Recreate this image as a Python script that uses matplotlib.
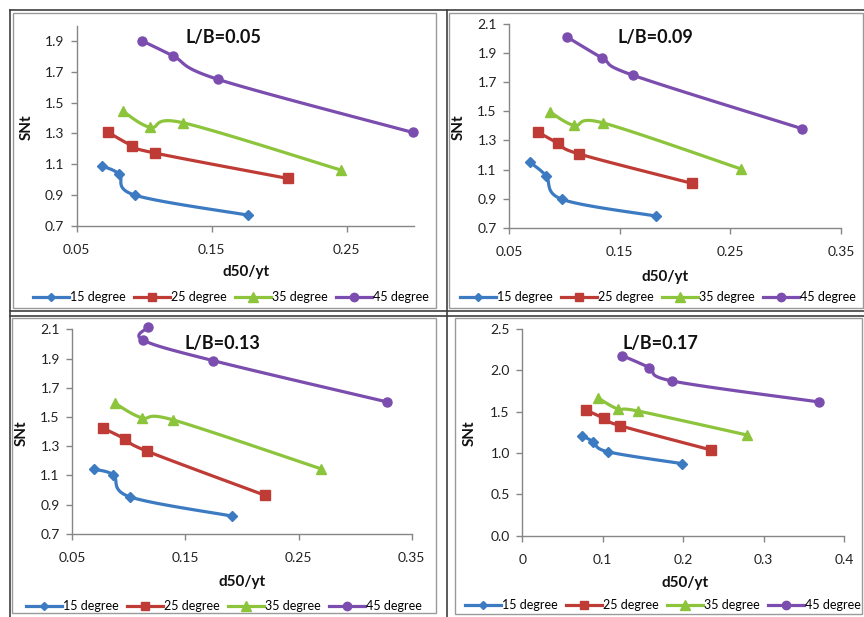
import numpy as np
import matplotlib
matplotlib.use("Agg")
import matplotlib.pyplot as plt
from matplotlib.lines import Line2D
from matplotlib.patches import Rectangle

plt.rcParams['font.family'] = ['Lato', 'DejaVu Sans']

# ---------------- data ----------------
series_labels = ["15 degree", "25 degree", "35 degree", "45 degree"]
titles = ["L/B=0.05", "L/B=0.09", "L/B=0.13", "L/B=0.17"]

# Panel 1 (L/B=0.05)
p1_x15 = [0.069, 0.0815, 0.093, 0.1767]
p1_y15 = [1.087, 1.035, 0.899, 0.769]
p1_x25 = [0.0734, 0.0913, 0.108, 0.2065]
p1_y25 = [1.306, 1.219, 1.172, 1.007]
p1_x35 = [0.084, 0.1046, 0.1287, 0.246]
p1_y35 = [1.445, 1.339, 1.369, 1.061]
p1_x45 = [0.0987, 0.1216, 0.155, 0.299]
p1_y45 = [1.900, 1.802, 1.650, 1.306]

# Panel 2 (L/B=0.09)
p2_x15 = [0.0687, 0.0832, 0.0979, 0.1824]
p2_y15 = [1.150, 1.058, 0.896, 0.782]
p2_x25 = [0.0756, 0.0943, 0.1133, 0.2152]
p2_y25 = [1.358, 1.280, 1.207, 1.006]
p2_x35 = [0.0868, 0.1088, 0.1344, 0.2598]
p2_y35 = [1.495, 1.403, 1.421, 1.104]
p2_x45 = [0.1019, 0.1341, 0.1622, 0.315]
p2_y45 = [2.010, 1.864, 1.746, 1.380]

# Panel 3 (L/B=0.13)
p3_x15 = [0.0692, 0.0863, 0.1007, 0.1909]
p3_y15 = [1.141, 1.102, 0.953, 0.821]
p3_x25 = [0.0774, 0.0966, 0.1158, 0.2203]
p3_y25 = [1.422, 1.349, 1.266, 0.963]
p3_x35 = [0.0878, 0.1114, 0.1393, 0.2696]
p3_y35 = [1.593, 1.494, 1.479, 1.145]
p3_x45 = [0.1172, 0.1122, 0.1747, 0.3285]
p3_y45 = [2.114, 2.027, 1.885, 1.602]

# Panel 4 (L/B=0.17)
p4_x15 = [0.0738, 0.0883, 0.1061, 0.199]
p4_y15 = [1.210, 1.137, 1.016, 0.871]
p4_x25 = [0.0788, 0.102, 0.1215, 0.2351]
p4_y25 = [1.520, 1.419, 1.331, 1.036]
p4_x35 = [0.0937, 0.119, 0.1439, 0.2794]
p4_y35 = [1.669, 1.532, 1.508, 1.218]
p4_x45 = [0.1244, 0.158, 0.1866, 0.3694]
p4_y45 = [2.177, 2.032, 1.871, 1.617]

# axis settings
p1_xticks = [0.05, 0.15, 0.25]
p1_yticks = [0.7, 0.9, 1.1, 1.3, 1.5, 1.7, 1.9]
p2_xticks = [0.05, 0.15, 0.25, 0.35]
p2_yticks = [0.7, 0.9, 1.1, 1.3, 1.5, 1.7, 1.9, 2.1]
p3_xticks = [0.05, 0.15, 0.25, 0.35]
p3_yticks = [0.7, 0.9, 1.1, 1.3, 1.5, 1.7, 1.9, 2.1]
p4_xticks = [0, 0.1, 0.2, 0.3, 0.4]
p4_yticks = [0.0, 0.5, 1.0, 1.5, 2.0, 2.5]
p4_xticklabels = ["0", "0.1", "0.2", "0.3", "0.4"]

colors = ["#3C7AC2", "#BF3B36", "#8CC43C", "#7B4DAE"]
markers = ["D", "s", "^", "o"]
msizes = [5.0, 6.5, 7.0, 6.5]

W, H = 864, 617
fig = plt.figure(figsize=(W / 100, H / 100), dpi=100)


def fx(x):
    return x / W


def fy(y):
    return 1 - y / H


def smooth(xs, ys, n=40):
    P = np.column_stack([xs, ys]).astype(float)
    m = len(P)
    out = [P[0:1]]
    t = np.linspace(0, 1, n)[1:, None]
    for i in range(m - 1):
        p0 = P[max(i - 1, 0)]
        p1 = P[i]
        p2 = P[i + 1]
        p3 = P[min(i + 2, m - 1)]
        c1 = p1 + (p2 - p0) / 6.0
        c2 = p2 - (p3 - p1) / 6.0
        seg = ((1 - t) ** 3) * p1 + 3 * ((1 - t) ** 2) * t * c1 + 3 * (1 - t) * (t ** 2) * c2 + (t ** 3) * p2
        out.append(seg)
    Q = np.vstack(out)
    return Q[:, 0], Q[:, 1]


# frames (chart areas and table lines)
frame_gray = "#9a9a9a"
dark = "#3f3f3f"
for (x0, y0, x1, y1) in [(13, 13, 436, 308), (449, 13, 863, 308),
                         (12, 318, 436, 613), (455, 318, 862, 614)]:
    fig.add_artist(Rectangle((fx(x0), fy(y1)), fx(x1 - x0), (y1 - y0) / H,
                             transform=fig.transFigure, fill=False,
                             edgecolor=frame_gray, lw=1.0))
for (xa, ya, xb, yb) in [(10, 10, 864, 10), (10, 10, 10, 617), (447.5, 10, 447.5, 617),
                         (10, 311, 864, 311), (10, 316, 864, 316)]:
    fig.add_artist(Line2D([fx(xa), fx(xb)], [fy(ya), fy(yb)], transform=fig.transFigure,
                          color=dark, lw=1.2))

panels = [
    dict(box=(76.7, 414.0, 25.6, 225.7), xlim=(0.05, 0.30), ylim=(0.7, 2.0),
         xt=p1_xticks, yt=p1_yticks, xtl=None, yfmt="{:.1f}",
         data=[(p1_x15, p1_y15), (p1_x25, p1_y25), (p1_x35, p1_y35), (p1_x45, p1_y45)],
         title=(223, 38), xlab=(246, 272), ylab=(27, 127), leg=(231, 297)),
    dict(box=(509.3, 841.0, 23.7, 228.0), xlim=(0.05, 0.35), ylim=(0.7, 2.1),
         xt=p2_xticks, yt=p2_yticks, xtl=None, yfmt="{:.1f}",
         data=[(p2_x15, p2_y15), (p2_x25, p2_y25), (p2_x35, p2_y35), (p2_x45, p2_y45)],
         title=(655, 37), xlab=(665, 277), ylab=(459, 127), leg=(658, 297)),
    dict(box=(72.3, 411.7, 329.3, 533.7), xlim=(0.05, 0.35), ylim=(0.7, 2.1),
         xt=p3_xticks, yt=p3_yticks, xtl=None, yfmt="{:.1f}",
         data=[(p3_x15, p3_y15), (p3_x25, p3_y25), (p3_x35, p3_y35), (p3_x45, p3_y45)],
         title=(222, 343), xlab=(242, 582), ylab=(22, 433), leg=(224, 606)),
    dict(box=(522.3, 844.0, 329.0, 535.7), xlim=(0.0, 0.4), ylim=(0.0, 2.5),
         xt=p4_xticks, yt=p4_yticks, xtl=p4_xticklabels, yfmt="{:.1f}",
         data=[(p4_x15, p4_y15), (p4_x25, p4_y25), (p4_x35, p4_y35), (p4_x45, p4_y45)],
         title=(660, 343), xlab=(685, 583), ylab=(470, 433), leg=(663, 605)),
]

for k, p in enumerate(panels):
    l, r, t, b = p["box"]
    ax = fig.add_axes([fx(l), fy(b), (r - l) / W, (b - t) / H])
    ax.set_xlim(*p["xlim"])
    ax.set_ylim(*p["ylim"])
    for s in ["top", "right"]:
        ax.spines[s].set_visible(False)
    for s in ["left", "bottom"]:
        ax.spines[s].set_color("#868686")
        ax.spines[s].set_linewidth(1.0)
    ax.set_xticks(p["xt"])
    if p["xtl"] is not None:
        ax.set_xticklabels(p["xtl"])
    else:
        ax.set_xticklabels(["{:.2f}".format(v) for v in p["xt"]])
    ax.set_yticks(p["yt"])
    ax.set_yticklabels([p["yfmt"].format(v) for v in p["yt"]])
    ax.tick_params(axis="both", direction="out", length=4, width=1.0, color="#868686",
                   labelsize=10, labelcolor="#222222", pad=5)
    ax.tick_params(axis="x", pad=9)
    ax.patch.set_alpha(0)
    for j, (xs, ys) in enumerate(p["data"]):
        sx, sy = smooth(xs, ys)
        ax.plot(sx, sy, color=colors[j], lw=2.3, solid_capstyle="round", clip_on=False)
        ax.plot(xs, ys, ls="none", marker=markers[j], ms=msizes[j], color=colors[j],
                mec=colors[j], clip_on=False)
    fig.text(fx(p["title"][0]), fy(p["title"][1]), titles[k], ha="center", va="center",
             fontsize=13, fontweight="bold", color="#111111")
    fig.text(fx(p["xlab"][0]), fy(p["xlab"][1]), "d50/yt", ha="center", va="center",
             fontsize=11, fontweight="bold", color="#111111")
    fig.text(fx(p["ylab"][0]), fy(p["ylab"][1]), "SNt", ha="center", va="center",
             rotation=90, fontsize=11, fontweight="bold", color="#111111")
    handles = [Line2D([0], [0], color=colors[j], lw=2.3, marker=markers[j],
                      ms=msizes[j] - 0.5, mec=colors[j]) for j in range(4)]
    fig.legend(handles, series_labels, loc="center",
               bbox_to_anchor=(fx(p["leg"][0]), fy(p["leg"][1])),
               ncol=4, frameon=False, fontsize=9, handlelength=2.9,
               handletextpad=0.12, columnspacing=0.6, numpoints=1,
               borderpad=0, borderaxespad=0)

fig.savefig("out.png", dpi=100)
